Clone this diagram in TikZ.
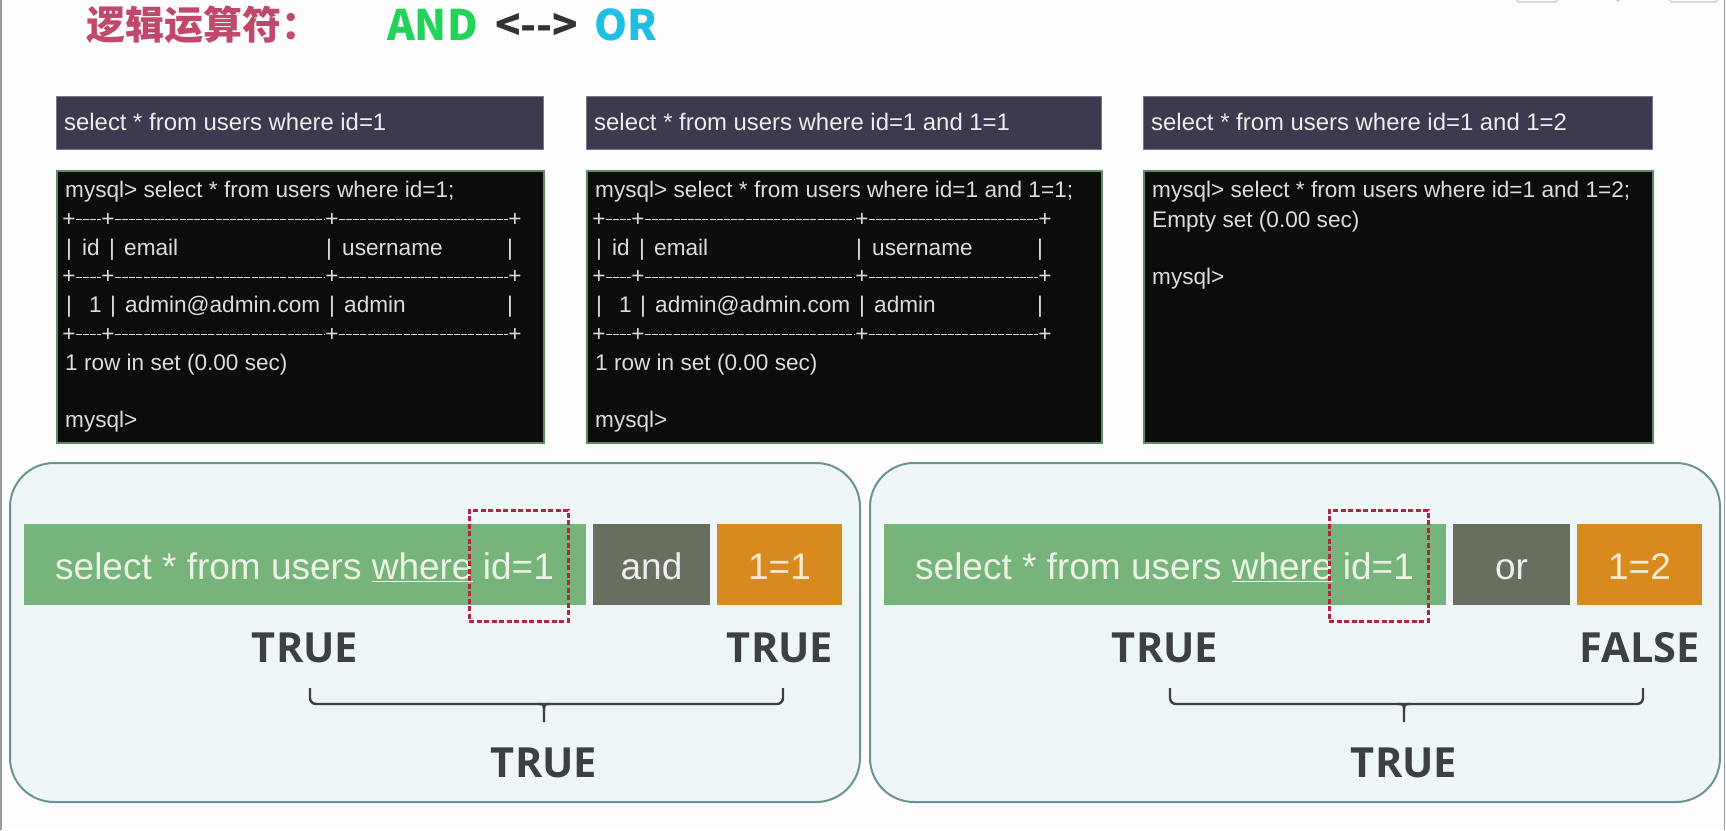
\documentclass[tikz,border=0pt]{standalone}
\usepackage{fontspec}
\setmainfont{Liberation Sans}
\newfontfamily\cjkfont{Noto Sans CJK SC}
\newfontfamily\labfont{Open Sans}
\definecolor{bg}{HTML}{FCFDFC}
\definecolor{titlered}{HTML}{C2486B}
\definecolor{andgreen}{HTML}{22D35A}
\definecolor{orcyan}{HTML}{1FBFE3}
\definecolor{arrowgray}{HTML}{333333}
\definecolor{hdrfill}{HTML}{3B3A4F}
\definecolor{hdrdraw}{HTML}{77768A}
\definecolor{hdrtext}{HTML}{EDEDED}
\definecolor{termfill}{HTML}{0B0C0B}
\definecolor{termdraw}{HTML}{5E8C61}
\definecolor{termtext}{HTML}{DCDCDC}
\definecolor{panelfill}{HTML}{EFF6F7}
\definecolor{paneldraw}{HTML}{6A9391}
\definecolor{barg}{HTML}{77B47B}
\definecolor{bartext}{HTML}{EAF3E4}
\definecolor{opfill}{HTML}{67705E}
\definecolor{optext}{HTML}{EEEEEE}
\definecolor{rhsfill}{HTML}{D98A1E}
\definecolor{rhstext}{HTML}{FBEBD3}
\definecolor{dashred}{HTML}{B3243F}
\definecolor{labgray}{HTML}{3C4043}
\definecolor{edgegray}{HTML}{9A9A9A}

\newcommand\tablerows[1]{%
  \node[tt] (r0) at (65,197.5) {#1};
  \foreach \k/\yy in {1/226.25,3/283.75,5/341.25}{
    \node[ttc] (p\k a) at (69,\yy) {+};
    \node[ttc] (p\k b) at (108,\yy) {+};
    \node[ttc] (p\k c) at (332,\yy) {+};
    \node[ttc] (p\k d) at (515,\yy) {+};
    \draw[sepline] (p\k a) -- (p\k b);
    \draw[sepline] (p\k b) -- (p\k c);
    \draw[sepline] (p\k c) -- (p\k d);
  }
  \node[ttc] (b2a) at (69,255) {|};
  \node[tt] (colid) at (82,255) {id};
  \node[ttc] (b2b) at (112,255) {|};
  \node[tt] (colemail) at (124,255) {email};
  \node[ttc] (b2c) at (329,255) {|};
  \node[tt] (coluser) at (342,255) {username};
  \node[ttc] (b2d) at (510,255) {|};
  \node[ttc] (b4a) at (69,312.5) {|};
  \node[tt] (valid) at (89,312.5) {1};
  \node[ttc] (b4b) at (113,312.5) {|};
  \node[tt] (valemail) at (125,312.5) {admin@admin.com};
  \node[ttc] (b4c) at (332,312.5) {|};
  \node[tt] (valuser) at (344,312.5) {admin};
  \node[ttc] (b4d) at (510,312.5) {|};
  \node[tt] (r6) at (65,370) {1 row in set (0.00 sec)};
  \node[tt] (r8) at (65,427.5) {mysql>};
}

\newcommand\logicpanel[5]{%
\begin{scope}[shift={(#1,0)}, name prefix=#2-]
  \node[panelbox, anchor=north west] (panel) at (9,462) {};
  \node[blockbox, fill=barg, minimum width=562, anchor=north west] (bar) at (24,524) {};
  \node[blockbox, fill=opfill, minimum width=117, anchor=north west] (op) at (593,524) {};
  \node[blockbox, fill=rhsfill, minimum width=125, anchor=north west] (rhs) at (717,524) {};
  \node[bartxt, anchor=base west] (qtext) at (55,579) {select * from users \underline{where} id=1};
  \node[bartxt, text=optext] (optext) at (651.5,579) {#3};
  \node[bartxt, text=rhstext] (rhstext) at (779.5,579) {#4};
  \node[dashbox, anchor=north west] (hl) at (468,509) {};
  \node[lab] (lval) at (305,662) {TRUE};
  \node[lab] (rval) at (780,662) {#5};
  \node[lab] (res) at (544,777) {TRUE};
  \draw[bracepath, rounded corners=6pt] (310,688) -- (310,704) -- (783,704) -- (783,688);
  \draw[bracepath] (537,704) .. controls (544,704) .. (544,711) -- (544,722);
  \draw[bracepath] (551,704) .. controls (544,704) .. (544,711);
\end{scope}}

\begin{document}
\begin{tikzpicture}[x=1pt,y=-1pt,
  hdrbox/.style={fill=hdrfill, draw=hdrdraw, line width=0.8pt, inner sep=0, minimum height=53},
  termbox/.style={fill=termfill, draw=termdraw, line width=1.5pt, inner sep=0, minimum height=272},
  hdrtxt/.style={anchor=base west, inner sep=0, text=hdrtext, font=\fontsize{23.9}{28}\selectfont},
  tt/.style={anchor=base west, inner sep=0, text=termtext, font=\fontsize{22.6}{27}\selectfont},
  ttc/.style={tt, anchor=base},
  sepline/.style={draw=termtext, line width=1.1pt, dash pattern=on 6pt off 1.2pt},
  panelbox/.style={draw=paneldraw, fill=panelfill, line width=2pt, rounded corners=44pt, minimum width=850, minimum height=339, inner sep=0},
  blockbox/.style={draw=none, inner sep=0, minimum height=81},
  bartxt/.style={anchor=base, inner sep=0, text=bartext, font=\fontsize{37}{44}\selectfont},
  dashbox/.style={draw=dashred, line width=2.6pt, dash pattern=on 5pt off 2.5pt, minimum width=99, minimum height=111, inner sep=0},
  lab/.style={anchor=base, inner sep=0, text=labgray, font=\labfont\bfseries\fontsize{41.5}{48}\selectfont},
  bracepath/.style={draw=labgray, line width=2.4pt},
  titletxt/.style={anchor=base west, inner sep=0, font=\cjkfont\bfseries\fontsize{42}{48}\selectfont},
  edgeline/.style={draw=edgegray, line width=1.5pt},
  uibit/.style={draw=gray!45, line width=1.2pt, rounded corners=1.5pt}
]
\useasboundingbox (0,0) rectangle (1726,830);
\fill[bg] (0,0) rectangle (1726,830);
\draw[edgeline] (1,0) -- (1,830);
\draw[edgeline] (1724.5,0) -- (1724.5,830);
\draw[uibit] (1517,-1) -- (1517,2) -- (1557,2) -- (1557,-1);
\draw[uibit] (1670,-1) -- (1670,2) -- (1717,2) -- (1717,-1);
\fill[gray!45] (1618,0.5) circle (1.6);

% title
\node[titletxt, text=titlered, font=\cjkfont\bfseries\fontsize{39}{44}\selectfont] (title) at (86,39.5) {逻辑运算符：};
\node[titletxt, text=andgreen] (tand) at (387,40) {AND};
\node[titletxt, text=arrowgray] (tarrow) at (495,40) {<{-}{-}>};
\node[titletxt, text=orcyan] (tor) at (594,40) {OR};

% header boxes
\node[hdrbox, minimum width=487, anchor=north west] (h1) at (56,96) {};
\node[hdrbox, minimum width=515, anchor=north west] (h2) at (586,96) {};
\node[hdrbox, minimum width=509, anchor=north west] (h3) at (1143,96) {};
\node[hdrtxt] (h1t) at (64,130.7) {select * from users where id=1};
\node[hdrtxt] (h2t) at (594,130.7) {select * from users where id=1 and 1=1};
\node[hdrtxt] (h3t) at (1151,130.7) {select * from users where id=1 and 1=2};

% terminals
\node[termbox, minimum width=487, anchor=north west] (t1) at (56,170) {};
\node[termbox, minimum width=515, anchor=north west] (t2) at (586,170) {};
\node[termbox, minimum width=509, anchor=north west] (t3) at (1143,170) {};

\begin{scope}[name prefix=t1-]
  \tablerows{mysql> select * from users where id=1;}
\end{scope}
\begin{scope}[shift={(530,0)}, name prefix=t2-]
  \tablerows{mysql> select * from users where id=1 and 1=1;}
\end{scope}
\begin{scope}[shift={(1087,0)}, name prefix=t3-]
  \node[tt] (r0) at (65,197.5) {mysql> select * from users where id=1 and 1=2;};
  \node[tt] (r1) at (65,227) {Empty set (0.00 sec)};
  \node[tt] (r3) at (65,284.5) {mysql>};
\end{scope}

% logic panels
\logicpanel{0}{L}{and}{1=1}{TRUE}
\logicpanel{860}{R}{or}{1=2}{FALSE}
\end{tikzpicture}
\end{document}
